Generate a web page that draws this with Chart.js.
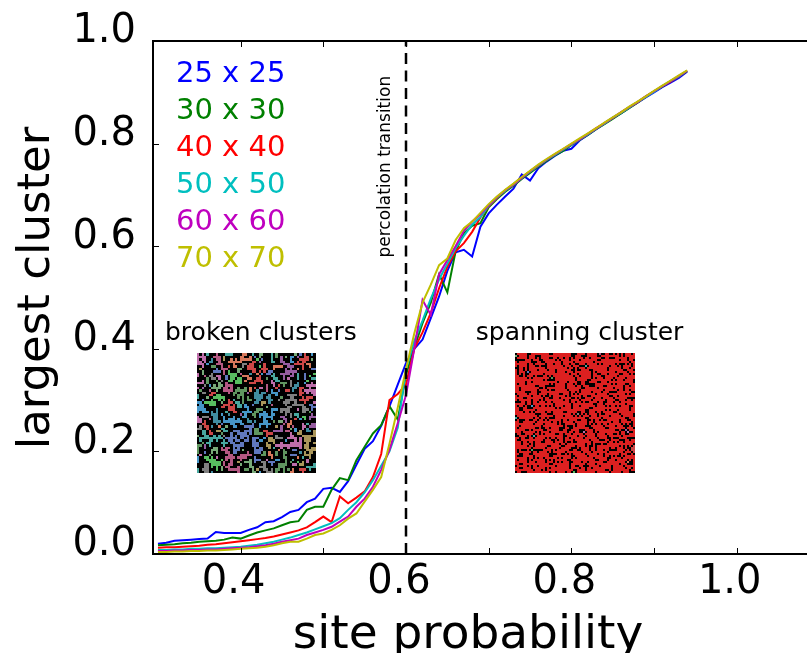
<!DOCTYPE html>
<html>
<head>
<meta charset="utf-8">
<script src="https://cdn.jsdelivr.net/npm/chart.js@4/dist/chart.umd.min.js"></script>
<style>
  html, body { margin: 0; padding: 0; background: #fff; overflow: hidden; }
  canvas { display: block; }
</style>
</head>
<body>
<canvas id="chart" width="807" height="653"></canvas>
<script>
// ---- data -------------------------------------------------------------
const siteProbability = [
  0.30, 0.31, 0.32, 0.33, 0.34, 0.35, 0.36, 0.37, 0.38, 0.39,
  0.40, 0.41, 0.42, 0.43, 0.44, 0.45, 0.46, 0.47, 0.48, 0.49,
  0.50, 0.51, 0.52, 0.53, 0.54, 0.55, 0.56, 0.57, 0.58, 0.59,
  0.60, 0.61, 0.62, 0.63, 0.64, 0.65, 0.66, 0.67, 0.68, 0.69,
  0.70, 0.71, 0.72, 0.73, 0.74, 0.75, 0.76, 0.77, 0.78, 0.79,
  0.80, 0.81, 0.82, 0.83, 0.84, 0.85, 0.86, 0.87, 0.88, 0.89,
  0.90, 0.91, 0.92, 0.93, 0.94
];

const grid25 = [
  0.020, 0.022, 0.026, 0.027, 0.028, 0.029, 0.030, 0.043, 0.041, 0.041,
  0.041, 0.047, 0.052, 0.062, 0.064, 0.072, 0.082, 0.086, 0.101, 0.108,
  0.127, 0.129, 0.121, 0.142, 0.174, 0.205, 0.220, 0.250, 0.288, 0.330,
  0.372, 0.400, 0.418, 0.460, 0.502, 0.552, 0.588, 0.593, 0.580, 0.638,
  0.664, 0.681, 0.697, 0.712, 0.740, 0.728, 0.752, 0.765, 0.776, 0.786,
  0.790, 0.806, 0.817, 0.828, 0.839, 0.850, 0.859, 0.870, 0.880, 0.890,
  0.900, 0.910, 0.919, 0.928, 0.940
];
const grid30 = [
  0.017, 0.018, 0.019, 0.021, 0.022, 0.024, 0.025, 0.026, 0.028, 0.032,
  0.030, 0.036, 0.042, 0.046, 0.050, 0.056, 0.062, 0.064, 0.086, 0.092,
  0.092, 0.125, 0.148, 0.144, 0.183, 0.209, 0.235, 0.251, 0.288, 0.262,
  0.350, 0.402, 0.450, 0.490, 0.545, 0.510, 0.590, 0.625, 0.640, 0.645,
  0.676, 0.692, 0.706, 0.718, 0.731, 0.743, 0.755, 0.766, 0.777, 0.786,
  0.797, 0.807, 0.817, 0.828, 0.838, 0.848, 0.859, 0.869, 0.880, 0.891,
  0.902, 0.911, 0.922, 0.931, 0.941
];
const grid40 = [
  0.012, 0.013, 0.013, 0.014, 0.015, 0.016, 0.018, 0.019, 0.021, 0.023,
  0.025, 0.027, 0.029, 0.031, 0.034, 0.038, 0.042, 0.046, 0.052, 0.062,
  0.073, 0.062, 0.112, 0.099, 0.110, 0.122, 0.150, 0.195, 0.300, 0.312,
  0.330, 0.400, 0.432, 0.470, 0.518, 0.560, 0.590, 0.606, 0.628, 0.656,
  0.678, 0.694, 0.709, 0.721, 0.734, 0.746, 0.757, 0.768, 0.779, 0.789,
  0.799, 0.809, 0.819, 0.830, 0.840, 0.850, 0.861, 0.871, 0.881, 0.892,
  0.902, 0.912, 0.921, 0.931, 0.942
];
const grid50 = [
  0.008, 0.008, 0.009, 0.009, 0.010, 0.010, 0.011, 0.011, 0.012, 0.013,
  0.014, 0.016, 0.018, 0.021, 0.024, 0.028, 0.032, 0.037, 0.042, 0.048,
  0.054, 0.060, 0.070, 0.086, 0.101, 0.120, 0.144, 0.172, 0.200, 0.246,
  0.360, 0.415, 0.455, 0.498, 0.535, 0.566, 0.596, 0.620, 0.642, 0.657,
  0.679, 0.695, 0.708, 0.720, 0.733, 0.745, 0.757, 0.768, 0.778, 0.788,
  0.798, 0.808, 0.818, 0.829, 0.839, 0.850, 0.860, 0.870, 0.881, 0.891,
  0.901, 0.912, 0.922, 0.931, 0.942
];
const grid60 = [
  0.006, 0.006, 0.007, 0.007, 0.008, 0.008, 0.009, 0.009, 0.010, 0.011,
  0.012, 0.013, 0.015, 0.017, 0.020, 0.024, 0.027, 0.030, 0.037, 0.042,
  0.047, 0.053, 0.063, 0.073, 0.092, 0.108, 0.131, 0.164, 0.203, 0.255,
  0.310, 0.400, 0.495, 0.466, 0.545, 0.573, 0.600, 0.630, 0.648, 0.662,
  0.680, 0.696, 0.709, 0.720, 0.733, 0.746, 0.758, 0.769, 0.779, 0.789,
  0.799, 0.808, 0.819, 0.829, 0.840, 0.850, 0.861, 0.871, 0.881, 0.892,
  0.902, 0.912, 0.922, 0.932, 0.942
];
const grid70 = [
  0.004, 0.004, 0.005, 0.005, 0.006, 0.006, 0.007, 0.007, 0.008, 0.009,
  0.010, 0.011, 0.012, 0.014, 0.017, 0.021, 0.024, 0.024, 0.030, 0.037,
  0.040, 0.047, 0.056, 0.069, 0.079, 0.102, 0.125, 0.150, 0.215, 0.285,
  0.360, 0.430, 0.490, 0.525, 0.563, 0.576, 0.612, 0.635, 0.648, 0.665,
  0.682, 0.697, 0.710, 0.722, 0.735, 0.747, 0.759, 0.770, 0.780, 0.790,
  0.800, 0.810, 0.820, 0.830, 0.841, 0.851, 0.861, 0.872, 0.882, 0.892,
  0.903, 0.913, 0.923, 0.933, 0.943
];

const seriesLabels = ['25 x 25', '30 x 30', '40 x 40', '50 x 50', '60 x 60', '70 x 70'];
const seriesValues = [grid25, grid30, grid40, grid50, grid60, grid70];

const xTickValues = [0.4, 0.5, 0.6, 0.7, 0.8, 0.9, 1.0];
const xTickLabelled = ['0.4', '0.6', '0.8', '1.0'];
const yTickValues = [0.0, 0.2, 0.4, 0.6, 0.8, 1.0];

const transitionP = 0.6;

// ---- styling ----------------------------------------------------------
const seriesColors = ['#0000ff', '#008000', '#ff0000', '#00bfbf', '#bf00bf', '#bfbf00'];
const FONT = "'DejaVu Sans', 'Liberation Sans', sans-serif";
Chart.defaults.font.family = FONT;
Chart.defaults.color = '#000';

// inset placement in data coordinates
const brokenBox = { x0: 0.347, x1: 0.491, y0: 0.158, y1: 0.391 };
const spanningBox = { x0: 0.732, x1: 0.877, y0: 0.158, y1: 0.391 };

// ---- small percolation lattices for the two insets ---------------------
function makeRng(seed) {
  let s = seed >>> 0;
  return () => { s = (Math.imul(s, 1664525) + 1013904223) >>> 0; return s / 4294967296; };
}

function buildLattice(n, p, seed) {
  const rnd = makeRng(seed);
  const occ = new Uint8Array(n * n);
  for (let i = 0; i < n * n; i++) occ[i] = rnd() < p ? 1 : 0;
  const lab = new Int32Array(n * n).fill(-1);
  const sizes = [];
  const stack = [];
  for (let i = 0; i < n * n; i++) {
    if (!occ[i] || lab[i] >= 0) continue;
    const id = sizes.length;
    let count = 0;
    lab[i] = id; stack.push(i);
    while (stack.length) {
      const k = stack.pop(); count++;
      const r = Math.floor(k / n), c = k % n;
      const nb = [];
      if (r > 0) nb.push(k - n);
      if (r < n - 1) nb.push(k + n);
      if (c > 0) nb.push(k - 1);
      if (c < n - 1) nb.push(k + 1);
      for (const m of nb) if (occ[m] && lab[m] < 0) { lab[m] = id; stack.push(m); }
    }
    sizes.push(count);
  }
  return { n, occ, lab, sizes, rnd };
}

const clusterPalette = [
  [205, 70, 70], [96, 150, 96], [64, 140, 160], [150, 92, 160], [128, 128, 128],
  [214, 120, 92], [72, 168, 160], [180, 88, 130], [88, 190, 96], [96, 120, 190],
  [170, 150, 90], [70, 150, 200], [120, 170, 120], [190, 110, 170]
];

function latticeImage(lat, largestRed) {
  const { n, occ, lab, sizes, rnd } = lat;
  let largest = 0;
  sizes.forEach((s, i) => { if (s > sizes[largest]) largest = i; });
  const colorOfCluster = sizes.map(() => clusterPalette[Math.floor(rnd() * clusterPalette.length)]);
  const cv = document.createElement('canvas');
  cv.width = n; cv.height = n;
  const g = cv.getContext('2d');
  const img = g.createImageData(n, n);
  for (let i = 0; i < n * n; i++) {
    let col = [0, 0, 0];
    if (occ[i]) col = (largestRed && lab[i] === largest) ? [220, 32, 32] : colorOfCluster[lab[i]];
    img.data[4 * i] = col[0]; img.data[4 * i + 1] = col[1];
    img.data[4 * i + 2] = col[2]; img.data[4 * i + 3] = 255;
  }
  g.putImageData(img, 0, 0);
  return cv;
}

const brokenImage = latticeImage(buildLattice(50, 0.46, 7919), false);
const spanningImage = latticeImage(buildLattice(60, 0.76, 4242), true);

// ---- plugins ------------------------------------------------------------
const decorations = {
  id: 'decorations',
  afterDatasetsDraw(chart) {
    const { ctx, chartArea: a, scales: { x, y } } = chart;
    ctx.save();

    // vertical dashed line at the percolation threshold
    const px = Math.round(x.getPixelForValue(transitionP));
    ctx.strokeStyle = '#000';
    ctx.lineWidth = 2.5;
    ctx.setLineDash([11, 6.5]);
    ctx.beginPath();
    ctx.moveTo(px, a.bottom);
    ctx.lineTo(px, a.top);
    ctx.stroke();
    ctx.setLineDash([]);

    ctx.fillStyle = '#000';
    ctx.font = '17px ' + FONT;
    ctx.textAlign = 'center';
    ctx.textBaseline = 'alphabetic';
    ctx.save();
    ctx.translate(px - 16, y.getPixelForValue(0.755));
    ctx.rotate(-Math.PI / 2);
    ctx.fillText('percolation transition', 0, 0);
    ctx.restore();

    // inset lattices and their captions
    ctx.imageSmoothingEnabled = false;
    for (const [box, im, caption] of [[brokenBox, brokenImage, 'broken clusters'],
                                      [spanningBox, spanningImage, 'spanning cluster']]) {
      const x0 = x.getPixelForValue(box.x0), x1 = x.getPixelForValue(box.x1);
      const y0 = y.getPixelForValue(box.y1), y1 = y.getPixelForValue(box.y0);
      ctx.drawImage(im, x0, y0, x1 - x0, y1 - y0);
      ctx.font = '25px ' + FONT;
      ctx.fillText(caption, (x0 + x1) / 2 + 4.5, y0 - 13.5);
    }
    ctx.restore();
  },
  afterDraw(chart) {
    const { ctx, chartArea: a, scales: { x, y } } = chart;
    ctx.save();

    // frame (left, top, bottom)
    ctx.strokeStyle = '#000';
    ctx.lineWidth = 2;
    ctx.beginPath();
    ctx.moveTo(a.right + 2, a.top); ctx.lineTo(a.left, a.top);
    ctx.lineTo(a.left, a.bottom); ctx.lineTo(a.right + 2, a.bottom);
    ctx.stroke();

    // inward tick marks
    ctx.lineWidth = 1;
    ctx.beginPath();
    for (const v of xTickValues) {
      const p = Math.round(x.getPixelForValue(v)) + 0.5;
      ctx.moveTo(p, a.bottom); ctx.lineTo(p, a.bottom - 6);
      ctx.moveTo(p, a.top); ctx.lineTo(p, a.top + 6);
    }
    for (const v of yTickValues) {
      const p = Math.round(y.getPixelForValue(v)) + 0.5;
      ctx.moveTo(a.left, p); ctx.lineTo(a.left + 6, p);
    }
    ctx.stroke();

    // legend: coloured labels only
    ctx.textAlign = 'left';
    ctx.textBaseline = 'alphabetic';
    ctx.font = '29px ' + FONT;
    chart.data.datasets.forEach((ds, i) => {
      ctx.fillStyle = ds.borderColor;
      ctx.fillText(ds.label, a.left + 23, a.top + 40.5 + 37 * i);
    });

    // axis titles
    ctx.fillStyle = '#000';
    ctx.font = '47px ' + FONT;
    ctx.textAlign = 'center';
    ctx.fillText('site probability', 468, 648);
    ctx.font = '45px ' + FONT;
    ctx.save();
    ctx.translate(49, 288);
    ctx.rotate(-Math.PI / 2);
    ctx.fillText('largest cluster', 0, 0);
    ctx.restore();

    ctx.restore();
  }
};

// ---- chart --------------------------------------------------------------
const datasets = seriesValues.map((vals, i) => ({
  label: seriesLabels[i],
  data: siteProbability.map((p, k) => ({ x: p, y: vals[k] })),
  borderColor: seriesColors[i],
  backgroundColor: seriesColors[i],
  borderWidth: 2,
  pointRadius: 0,
  tension: 0,
  fill: false,
  order: seriesValues.length - i
}));

new Chart(document.getElementById('chart'), {
  type: 'line',
  data: { datasets },
  options: {
    responsive: false,
    animation: false,
    events: [],
    layout: { padding: { top: 41, left: 0, right: 0, bottom: 0 } },
    plugins: { legend: { display: false }, tooltip: { enabled: false } },
    scales: {
      x: {
        type: 'linear',
        min: 0.294,
        max: 1.085,
        grid: { display: false, drawTicks: false },
        border: { display: false },
        afterBuildTicks: s => { s.ticks = xTickValues.map(v => ({ value: v })); },
        afterFit: s => { s.height = 99; },
        ticks: {
          autoSkip: false,
          maxRotation: 0,
          padding: 5,
          labelOffset: -7,
          font: { size: 40 },
          callback: v => {
            const t = Number(v).toFixed(1);
            return xTickLabelled.includes(t) ? t : '';
          }
        }
      },
      y: {
        min: 0,
        max: 1,
        grid: { display: false, drawTicks: false },
        border: { display: false },
        afterBuildTicks: s => { s.ticks = yTickValues.map(v => ({ value: v })); },
        afterFit: s => { s.width = 153; },
        ticks: {
          padding: 17,
          labelOffset: -9,
          font: { size: 40 },
          callback: v => Number(v).toFixed(1)
        }
      }
    }
  },
  plugins: [decorations]
});
</script>
</body>
</html>
